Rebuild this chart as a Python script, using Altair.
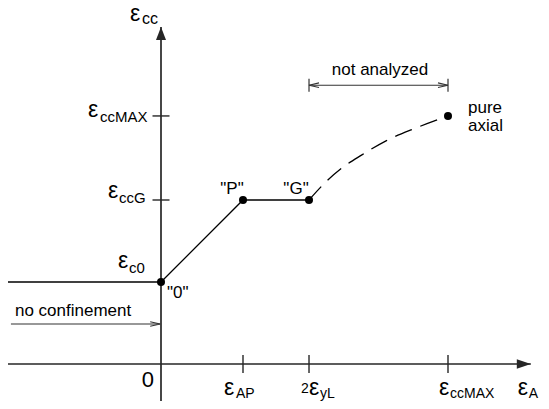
import altair as alt
import pandas as pd

FONT = "Liberation Sans"

# ---- schematic values (arbitrary strain units) ----
x_tick_vals = [2.0, 3.61, 7.0]          # εAP, 2εyL, εccMAX
y_tick_vals = [4.0, 6.05]               # εccG, εccMAX
eps_c0 = 2.0

solid_x = [0.0, 2.0, 3.61]              # "0" -> "P" -> "G"
solid_y = [2.0, 4.0, 4.0]
dash_x = [3.61, 4.0, 4.4, 4.9, 5.5, 6.2, 7.0]   # "G" -> pure axial
dash_y = [4.0, 4.42, 4.77, 5.1, 5.45, 5.75, 6.05]
pt_x = [0.0, 2.0, 3.61, 7.0]
pt_y = [2.0, 4.0, 4.0, 6.05]

x_tip, y_tip = 9.02, 8.22               # axis arrow tips
conf_y = 0.976                          # "no confinement" arrow level
dim_y = 6.80                            # "not analyzed" dimension line level

# ---- scales ----
W, H = 533, 393
PX = 41.0
X0, Y0 = 153, 356
xdom = [-X0 / PX, (W - X0) / PX]
ydom = [-(H - Y0) / PX, Y0 / PX]
xs = alt.Scale(domain=xdom, nice=False, zero=False)
ys = alt.Scale(domain=ydom, nice=False, zero=False)


def X(f):
    return alt.X(f, type="quantitative", scale=xs, axis=None)


def Y(f):
    return alt.Y(f, type="quantitative", scale=ys, axis=None)


AX = "#262626"
layers = []

# axes
layers.append(alt.Chart(pd.DataFrame({"x0": [xdom[0]], "x1": [x_tip], "y": [0.0]}))
              .mark_rule(color=AX, strokeWidth=1.7)
              .encode(x=X("x0"), x2=alt.X2("x1"), y=Y("y")))
layers.append(alt.Chart(pd.DataFrame({"y0": [ydom[0]], "y1": [y_tip], "x": [0.0]}))
              .mark_rule(color=AX, strokeWidth=1.7)
              .encode(y=Y("y0"), y2=alt.Y2("y1"), x=X("x")))
layers.append(alt.Chart(pd.DataFrame({"x": [x_tip], "y": [0.0]}))
              .mark_point(shape="M 0 0 L -2 -0.67 L -2 0.67 Z", filled=True, size=196,
                          color=AX, opacity=1, strokeWidth=0)
              .encode(x=X("x"), y=Y("y")))
layers.append(alt.Chart(pd.DataFrame({"x": [0.0], "y": [y_tip]}))
              .mark_point(shape="M 0 0 L -0.77 2 L 0.77 2 Z", filled=True, size=169,
                          color=AX, opacity=1, strokeWidth=0)
              .encode(x=X("x"), y=Y("y")))

# ticks
layers.append(alt.Chart(pd.DataFrame({"x": x_tick_vals, "y": [0.0] * len(x_tick_vals)}))
              .mark_tick(orient="vertical", size=18, thickness=1.4, color=AX, opacity=1)
              .encode(x=X("x"), y=Y("y")))
layers.append(alt.Chart(pd.DataFrame({"y": y_tick_vals, "x": [0.0] * len(y_tick_vals)}))
              .mark_tick(orient="horizontal", size=17, thickness=1.4, color=AX, opacity=1)
              .encode(x=X("x"), y=Y("y")))

# no-confinement level
layers.append(alt.Chart(pd.DataFrame({"x0": [xdom[0]], "x1": [0.0], "y": [eps_c0]}))
              .mark_rule(color="black", strokeWidth=1.3)
              .encode(x=X("x0"), x2=alt.X2("x1"), y=Y("y")))

# curves
layers.append(alt.Chart(pd.DataFrame({"x": solid_x, "y": solid_y, "i": range(len(solid_x))}))
              .mark_line(color="black", strokeWidth=1.3)
              .encode(x=X("x"), y=Y("y"), order="i:Q"))
layers.append(alt.Chart(pd.DataFrame({"x": dash_x, "y": dash_y, "i": range(len(dash_x))}))
              .mark_line(color="black", strokeWidth=1.3, strokeDash=[18, 9], interpolate="monotone")
              .encode(x=X("x"), y=Y("y"), order="i:Q"))
layers.append(alt.Chart(pd.DataFrame({"x": pt_x, "y": pt_y}))
              .mark_circle(color="black", size=64, opacity=1)
              .encode(x=X("x"), y=Y("y")))

# no-confinement arrow
layers.append(alt.Chart(pd.DataFrame({"x0": [-3.66], "x1": [-0.02], "y": [conf_y]}))
              .mark_rule(color="#333", strokeWidth=1.1)
              .encode(x=X("x0"), x2=alt.X2("x1"), y=Y("y")))
layers.append(alt.Chart(pd.DataFrame({"x": [-0.02], "y": [conf_y]}))
              .mark_point(shape="M -2 -0.46 L 0 0 L -2 0.46", filled=False, size=100,
                          color="#333", opacity=1, strokeWidth=1.1)
              .encode(x=X("x"), y=Y("y")))

# not-analyzed dimension line
layers.append(alt.Chart(pd.DataFrame({"x0": [x_tick_vals[1]], "x1": [x_tick_vals[2]], "y": [dim_y]}))
              .mark_rule(color="#333", strokeWidth=1.1)
              .encode(x=X("x0"), x2=alt.X2("x1"), y=Y("y")))
layers.append(alt.Chart(pd.DataFrame({"x": [x_tick_vals[1], x_tick_vals[2]], "y": [dim_y, dim_y]}))
              .mark_tick(orient="vertical", size=13, thickness=1.2, color="#333", opacity=1)
              .encode(x=X("x"), y=Y("y")))
layers.append(alt.Chart(pd.DataFrame({"x": [x_tick_vals[2]], "y": [dim_y]}))
              .mark_point(shape="M -2 -0.46 L 0 0 L -2 0.46", filled=False, size=100,
                          color="#333", opacity=1, strokeWidth=1.1)
              .encode(x=X("x"), y=Y("y")))
layers.append(alt.Chart(pd.DataFrame({"x": [x_tick_vals[1]], "y": [dim_y]}))
              .mark_point(shape="M 2 -0.46 L 0 0 L 2 0.46", filled=False, size=100,
                          color="#333", opacity=1, strokeWidth=1.1)
              .encode(x=X("x"), y=Y("y")))


def label(text, x, y, size, dx=0, dy=0, align="left"):
    return (alt.Chart(pd.DataFrame({"x": [x], "y": [y], "t": [text]}))
            .mark_text(font=FONT, fontSize=size, align=align, baseline="alphabetic",
                       dx=dx, dy=dy, color="black")
            .encode(x=X("x"), y=Y("y"), text="t:N"))


EPS = 23
SUBY = 15
SUBX = 14
# y-axis labels
layers += [
    label("ε", 0.0, y_tip, EPS, -31, -6), label("cc", 0.0, y_tip, 16, -19, -3),
    label("ε", 0.0, y_tick_vals[1], EPS, -73, 1), label("ccMAX", 0.0, y_tick_vals[1], SUBY, -61, 6),
    label("ε", 0.0, y_tick_vals[0], EPS, -53, -2), label("ccG", 0.0, y_tick_vals[0], SUBY, -42, 3),
    label("ε", 0.0, eps_c0, EPS, -43, -14), label("c0", 0.0, eps_c0, SUBY, -32, -9),
]
# x-axis labels
layers += [
    label("0", 0.0, 0.0, 22, -7, 23, align="right"),
    label("ε", x_tick_vals[0], 0.0, EPS, -19, 31), label("AP", x_tick_vals[0], 0.0, SUBX, -7, 34),
    label("2", x_tick_vals[1], 0.0, SUBX, -8, 29), label("ε", x_tick_vals[1], 0.0, EPS, 0, 31),
    label("yL", x_tick_vals[1], 0.0, SUBX, 11, 34),
    label("ε", x_tick_vals[2], 0.0, EPS, -9, 31), label("ccMAX", x_tick_vals[2], 0.0, SUBX, 2, 34),
    label("ε", x_tip, 0.0, EPS, -13, 31), label("A", x_tip, 0.0, SUBX, -2, 34),
]
# point / annotation labels
layers += [
    label('"0"', pt_x[0], pt_y[0], 17, 6, 16),
    label('"P"', pt_x[1], pt_y[1], 17, -11, -6, align="center"),
    label('"G"', pt_x[2], pt_y[2], 17, -13, -6, align="center"),
    label("pure", pt_x[3], pt_y[3], 17, 20, -3),
    label("axial", pt_x[3], pt_y[3], 17, 20, 15),
    label("not analyzed", (x_tick_vals[1] + x_tick_vals[2]) / 2, dim_y, 17, 1.5, -10, align="center"),
    label("no confinement", -3.66, conf_y, 17, 4, -8),
]

chart = (alt.layer(*layers)
         .properties(width=W, height=H, autosize=alt.AutoSizeParams(type="none"), padding=0,
                     background="white")
         .configure_view(stroke=None))

chart.save("out.html", embed_options={"renderer": "svg", "actions": False})
